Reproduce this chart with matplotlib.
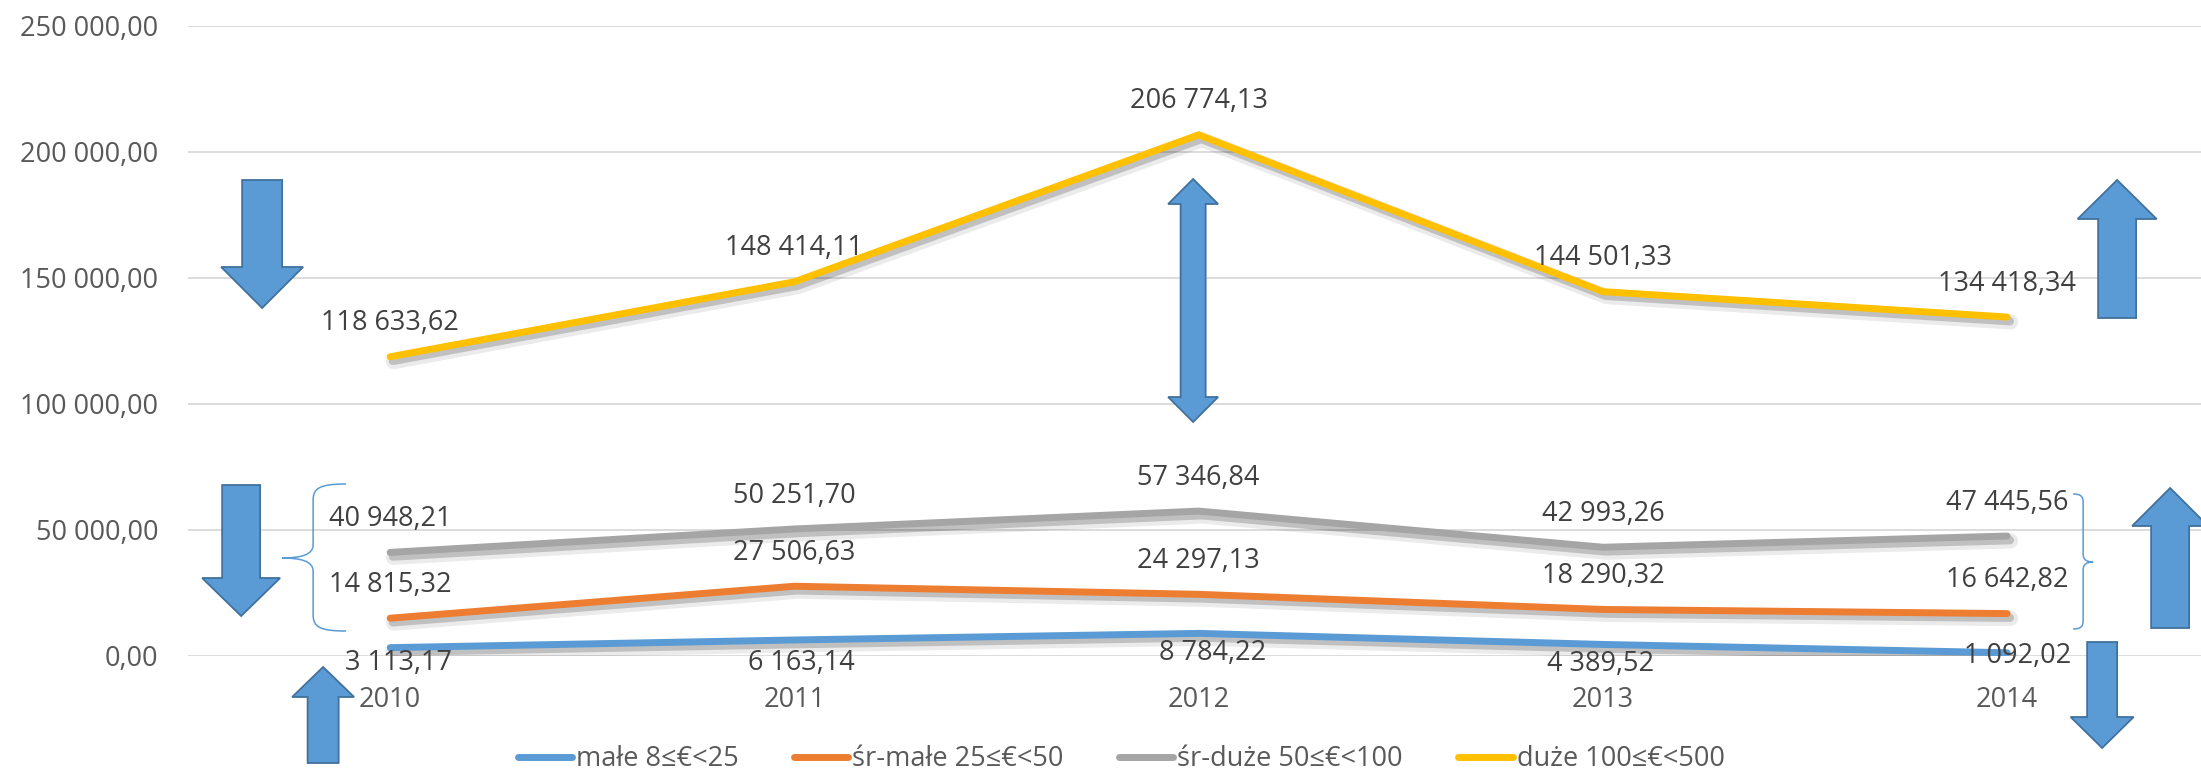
import numpy as np
import matplotlib
matplotlib.use('Agg')
import matplotlib.pyplot as plt
import matplotlib.patheffects as pe
from matplotlib.patches import Polygon, PathPatch
from matplotlib.path import Path
from matplotlib.lines import Line2D

plt.rcParams['font.family'] = ['Open Sans', 'DejaVu Sans']

# data
years = ['2010', '2011', '2012', '2013', '2014']
male = [3113.17, 6163.14, 8784.22, 4389.52, 1092.02]
sr_male = [14815.32, 27506.63, 24297.13, 18290.32, 16642.82]
sr_duze = [40948.21, 50251.70, 57346.84, 42993.26, 47445.56]
duze = [118633.62, 148414.11, 206774.13, 144501.33, 134418.34]
names = ['małe 8≤€<25', 'śr-małe 25≤€<50', 'śr-duże 50≤€<100', 'duże 100≤€<500']
colors = ['#5B9BD5', '#ED7D31', '#A5A5A5', '#FFC000']
yticks = [0, 50000, 100000, 150000, 200000, 250000]


def fmt(v):
    return f"{v:,.2f}".replace(',', ' ').replace('.', ',')


W, H = 2201, 773
fig = plt.figure(figsize=(W / 100, H / 100), dpi=100)
ax = fig.add_axes([188 / W, (H - 655.5) / H, 2021.25 / W, 629.5 / H])
ax.set_xlim(-0.5, 4.5)
ax.set_ylim(0, 250000)

# pixel -> data helper for the decorations (arrows, braces)
X0, DX, Y0, DY = 390, 404.25, 655.5, 250000 / 629.5


def px(x, y):
    return ((x - X0) / DX, (Y0 - y) * DY)


x = np.arange(len(years))
series = [male, sr_male, sr_duze, duze]
fx = [pe.SimpleLineShadow(offset=(2.5, -3.5), shadow_color='k', alpha=0.08, linewidth=11),
      pe.SimpleLineShadow(offset=(2, -3), shadow_color='k', alpha=0.18, linewidth=6),
      pe.Normal()]
for s, c in zip(series, colors):
    ax.plot(x, s, color=c, lw=5, solid_capstyle='round', solid_joinstyle='miter',
            path_effects=fx, zorder=3)

# data labels (above the points)
lab = dict(fontsize=19.5, color='#404040', ha='center', va='baseline',
           textcoords='offset points', annotation_clip=False, zorder=6)
for s in [sr_male, sr_duze, duze]:
    for i, v in enumerate(s):
        ax.annotate(fmt(v), (i, v), xytext=(0, 19), **lab)
# blue labels below the line, nudged like in the original
blue_off = [(5.8, -16), (5, -21.6), (10, -19.2), (-2, -19.2), (7.2, -7.3)]
for i, v in enumerate(male):
    ax.annotate(fmt(v), (i, v), xytext=blue_off[i], **lab)

# axes styling
for sp in ax.spines.values():
    sp.set_visible(False)
ax.set_yticks(yticks)
ax.set_yticklabels([fmt(t) for t in yticks])
ax.set_xticks(x)
ax.set_xticklabels(years)
ax.tick_params(axis='y', length=0, pad=21.5, labelsize=19.5, labelcolor='#595959')
ax.tick_params(axis='x', length=0, pad=22, labelsize=19.5, labelcolor='#595959')
ax.grid(axis='y', color='#D9D9D9', lw=1.3)
ax.set_axisbelow(True)

# block arrows: cx, tail y, tip y, shaft half width, head half width, head base y
arrows = [
    (262, 180, 308, 20, 41, 267),
    (241, 485, 616, 19, 39, 578),
    (323, 763, 667, 15.5, 31, 697),
    (2117, 318, 180, 19, 39.5, 219),
    (2170, 628, 488, 19, 38, 526),
    (2102, 642, 748, 15, 31.5, 717),
]
arrow_style = dict(facecolor='#5B9BD5', edgecolor='#41719C', lw=1.3,
                   transform=ax.transData, clip_on=False, zorder=5)
for cx, yt, yp, hs, hh, yb in arrows:
    pts = [(cx - hs, yt), (cx + hs, yt), (cx + hs, yb), (cx + hh, yb),
           (cx, yp), (cx - hh, yb), (cx - hs, yb)]
    ax.add_patch(Polygon([px(*p) for p in pts], closed=True, **arrow_style))

# double arrow above 2012
cx, t_tip, t_base, b_base, b_tip, hs, hh = 1193, 179, 204, 397, 422, 12.5, 25
pts = [(cx, t_tip), (cx + hh, t_base), (cx + hs, t_base), (cx + hs, b_base),
       (cx + hh, b_base), (cx, b_tip), (cx - hh, b_base), (cx - hs, b_base),
       (cx - hs, t_base), (cx - hh, t_base)]
ax.add_patch(Polygon([px(*p) for p in pts], closed=True, **arrow_style))

# curly braces
C4, L2 = Path.CURVE4, Path.LINETO
left_brace = [(346, 484), (320, 484), (313, 488), (313, 500), (313, 545),
              (313, 555), (300, 558), (282, 558), (300, 558), (313, 561), (313, 571),
              (313, 615), (313, 627), (320, 631), (346, 631)]
right_brace = [(2073, 494), (2080, 494), (2083, 496), (2083, 502), (2083, 554),
               (2083, 560), (2087, 562), (2093, 562), (2087, 562), (2083, 564), (2083, 570),
               (2083, 621), (2083, 627), (2080, 629), (2073, 629)]
codes = [Path.MOVETO, C4, C4, C4, L2, C4, C4, C4, C4, C4, C4, L2, C4, C4, C4]
for br in [left_brace, right_brace]:
    ax.add_patch(PathPatch(Path([px(*p) for p in br], codes), facecolor='none',
                           edgecolor='#5B9BD5', lw=1.1, transform=ax.transData,
                           clip_on=False, zorder=5))

# legend
handles = [Line2D([], [], color=c, lw=5, solid_capstyle='round') for c in colors]
leg = fig.legend(handles, names, loc='center', bbox_to_anchor=(1121 / W, (H - 759) / H),
                 ncol=4, frameon=False, fontsize=19.5, handlelength=2.0,
                 handletextpad=0.15, columnspacing=2.05, borderaxespad=0)
for t in leg.get_texts():
    t.set_color('#595959')

fig.savefig('out.png', dpi=100, facecolor='white')
